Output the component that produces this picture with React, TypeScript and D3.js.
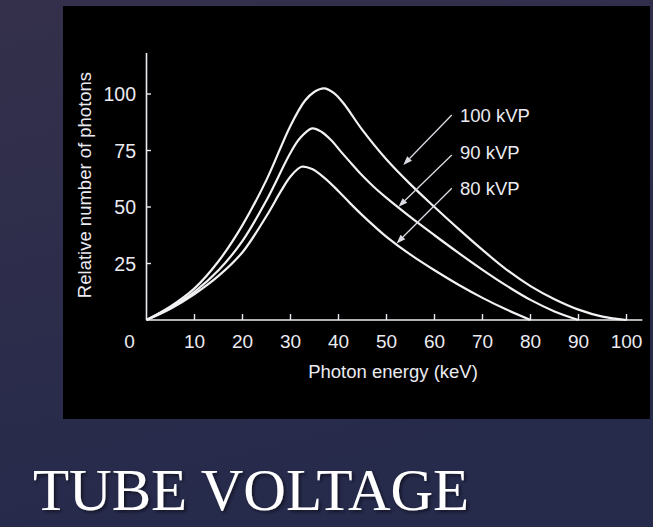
import React from "react";
import * as d3 from "d3";

// ---- data ----
const seriesNames = ["100 kVP", "90 kVP", "80 kVP"];

const kvp100Energy = [0, 5, 10, 15, 20, 25, 30, 33, 35, 37, 39, 41, 45, 50, 55, 60, 65, 70, 75, 80, 85, 90, 95, 100];
const kvp100Count = [0, 6, 14, 26, 42, 62, 86, 97, 101, 102.5, 100.5, 96, 84, 71, 60, 50, 40.3, 31, 22.3, 15, 9.2, 4.6, 1.5, 0];

const kvp90Energy = [0, 5, 10, 15, 20, 25, 30, 32, 34.5, 36.5, 38.5, 40.5, 43, 45, 47.5, 50, 55, 60, 65, 70, 75, 80, 85, 90];
const kvp90Count = [0, 5.5, 12.5, 22, 35, 53, 74, 80.5, 84.8, 83.2, 79.5, 74.5, 68.5, 63.8, 58.6, 54, 45.5, 37.5, 29.7, 22.2, 15.2, 8.9, 3.8, 0];

const kvp80Energy = [0, 5, 10, 15, 20, 25, 28, 30, 32.3, 34.5, 37, 40, 42.5, 45, 47.5, 50, 55, 60, 65, 70, 75, 80];
const kvp80Count = [0, 5, 11.5, 19.5, 30, 46, 57, 63.5, 67.8, 66.8, 63, 57, 51.5, 46.3, 41.4, 36.8, 28.9, 22, 15.6, 9.8, 4.6, 0];

const xTickValues = [10, 20, 30, 40, 50, 60, 70, 80, 90, 100];
const yTickValues = [25, 50, 75, 100];

// annotation anchors in data units (energy, count)
const labelAnchor = [
  [65.3, 87.6],
  [65.3, 71.2],
  [65.3, 55.3],
];
const arrowStart = [
  [63.6, 90.7],
  [63.6, 73.0],
  [63.6, 58.3],
];
const arrowEnd = [
  [53.5, 68.6],
  [52.5, 50.1],
  [52.1, 33.9],
];

const W = 653;
const H = 527;

export default function App() {
  const x = d3.scaleLinear().domain([0, 100]).range([146.5, 626.5]);
  const y = d3.scaleLinear().domain([0, 100]).range([320, 94]);

  const line = d3
    .line<[number, number]>()
    .x((d) => x(d[0]))
    .y((d) => Math.min(y(0), y(d[1])))
    .curve(d3.curveCatmullRom.alpha(0.5));

  const series = [
    d3.zip(kvp100Energy, kvp100Count) as [number, number][],
    d3.zip(kvp90Energy, kvp90Count) as [number, number][],
    d3.zip(kvp80Energy, kvp80Count) as [number, number][],
  ];

  const font = "'Liberation Sans', Arial, sans-serif";
  const fg = "#ecebf2";

  const arrows = arrowStart.map((s, i) => {
    const x1 = x(s[0]);
    const y1 = y(s[1]);
    const x2 = x(arrowEnd[i][0]);
    const y2 = y(arrowEnd[i][1]);
    const ang = Math.atan2(y2 - y1, x2 - x1);
    const len = 9;
    const hw = 3.3;
    const bx = x2 - len * Math.cos(ang);
    const by = y2 - len * Math.sin(ang);
    const px = -Math.sin(ang) * hw;
    const py = Math.cos(ang) * hw;
    return { x1, y1, x2, y2, bx, by, head: `${x2},${y2} ${bx + px},${by + py} ${bx - px},${by - py}` };
  });

  return (
    <svg
      width={W}
      height={H}
      viewBox={`0 0 ${W} ${H}`}
      style={{ position: "absolute", left: 0, top: 0, display: "block" }}
    >
      <defs>
        <linearGradient id="bg" x1="0" y1="0" x2="0.3" y2="1">
          <stop offset="0" stopColor="#34304b" />
          <stop offset="1" stopColor="#262a4b" />
        </linearGradient>
        <filter id="shadow" x="-5%" y="-20%" width="110%" height="140%">
          <feDropShadow dx="2" dy="2" stdDeviation="1.5" floodColor="#000000" floodOpacity="0.5" />
        </filter>
      </defs>
      <rect x={0} y={0} width={W} height={H} fill="url(#bg)" />
      <rect x={63} y={6} width={587} height={413} fill="#000000" />

      {/* axes */}
      <line x1={x(0)} y1={53} x2={x(0)} y2={y(0)} stroke={fg} strokeWidth={1.6} />
      <line x1={x(0)} y1={y(0)} x2={x(103.3)} y2={y(0)} stroke={fg} strokeWidth={1.6} />
      {yTickValues.map((v) => (
        <g key={"yt" + v}>
          <line x1={x(0)} x2={x(0) + 4.5} y1={y(v)} y2={y(v)} stroke={fg} strokeWidth={1.4} />
          <text
            x={136}
            y={y(v)}
            dy="0.36em"
            textAnchor="end"
            fill={fg}
            fontFamily={font}
            fontSize={19.5}
          >
            {v}
          </text>
        </g>
      ))}
      {xTickValues.map((v) => (
        <g key={"xt" + v}>
          <line x1={x(v)} x2={x(v)} y1={y(0)} y2={y(0) - 6} stroke={fg} strokeWidth={1.4} />
          <text
            x={x(v)}
            y={348}
            textAnchor="middle"
            fill={fg}
            fontFamily={font}
            fontSize={19}
          >
            {v}
          </text>
        </g>
      ))}
      <text x={x(0) - 17} y={348} textAnchor="middle" fill={fg} fontFamily={font} fontSize={19}>
        0
      </text>

      <text x={393} y={378} textAnchor="middle" fill={fg} fontFamily={font} fontSize={18.5}>
        Photon energy (keV)
      </text>
      <text
        transform="translate(91,185) rotate(-90)"
        textAnchor="middle"
        fill={fg}
        fontFamily={font}
        fontSize={18.5}
      >
        Relative number of photons
      </text>

      {/* curves */}
      {series.map((s, i) => (
        <path key={"s" + i} d={line(s) || ""} fill="none" stroke="#f2f2f5" strokeWidth={2.2} />
      ))}

      {/* annotations */}
      {arrows.map((a, i) => (
        <g key={"a" + i}>
          <line x1={a.x1} y1={a.y1} x2={a.bx} y2={a.by} stroke="#dcdce4" strokeWidth={1.3} />
          <polygon points={a.head} fill="#dcdce4" />
        </g>
      ))}
      {seriesNames.map((n, i) => (
        <text
          key={"l" + i}
          x={x(labelAnchor[i][0])}
          y={y(labelAnchor[i][1])}
          fill={fg}
          fontFamily={font}
          fontSize={18.5}
        >
          {n}
        </text>
      ))}

      {/* slide title */}
      <text
        x={33}
        y={510}
        fill="#ffffff"
        filter="url(#shadow)"
        fontFamily="'Liberation Serif', 'Times New Roman', serif"
        fontSize={59}
      >
        TUBE VOLTAGE
      </text>
    </svg>
  );
}
